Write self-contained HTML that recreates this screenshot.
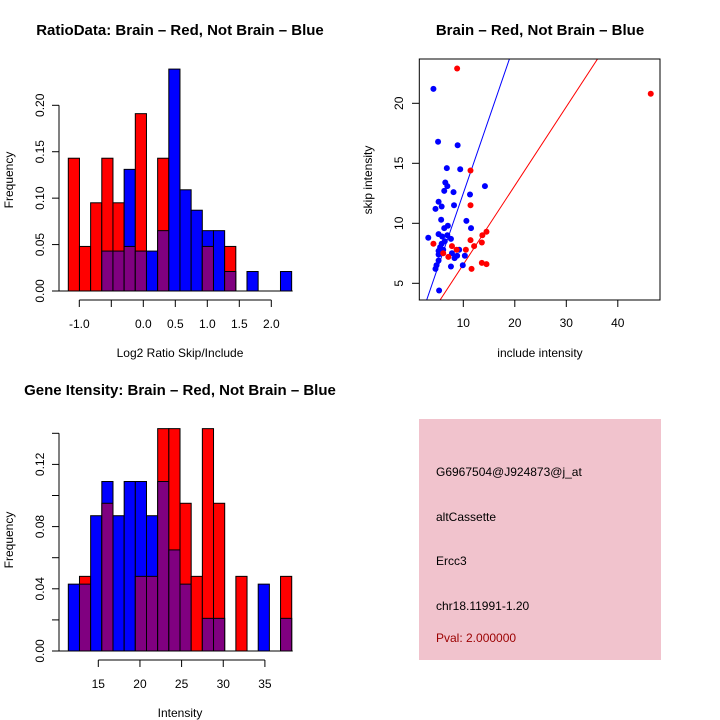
<!DOCTYPE html>
<html><head><meta charset="utf-8"><style>
body{margin:0;background:#fff;}
svg{display:block;font-family:"Liberation Sans",sans-serif;}
</style></head><body>
<svg id="c" width="720" height="720" viewBox="0 0 720 720">
<rect x="0" y="0" width="720" height="720" fill="#fff"/>
<text x="180" y="35" text-anchor="middle" font-size="15" font-weight="bold">RatioData: Brain – Red, Not Brain – Blue</text>
<text x="540" y="35" text-anchor="middle" font-size="15" font-weight="bold">Brain – Red, Not Brain – Blue</text>
<text x="180" y="395" text-anchor="middle" font-size="15" font-weight="bold">Gene Itensity: Brain – Red, Not Brain – Blue</text>
<text x="180" y="357" text-anchor="middle" font-size="12">Log2 Ratio Skip/Include</text>
<text transform="translate(13,180) rotate(-90)" text-anchor="middle" font-size="12">Frequency</text>
<text x="540" y="357" text-anchor="middle" font-size="12">include intensity</text>
<text transform="translate(372,180) rotate(-90)" text-anchor="middle" font-size="12">skip intensity</text>
<text x="180" y="717" text-anchor="middle" font-size="12">Intensity</text>
<text transform="translate(13,540) rotate(-90)" text-anchor="middle" font-size="12">Frequency</text>
<g>
<rect x="419" y="419" width="242" height="241" fill="#f1c3cd"/>
<text x="436" y="476" font-size="12">G6967504@J924873@j_at</text>
<text x="436" y="521" font-size="12">altCassette</text>
<text x="436" y="565" font-size="12">Ercc3</text>
<text x="436" y="610" font-size="12">chr18.11991-1.20</text>
<text x="436" y="642" font-size="12" fill="#9b0000">Pval: 2.000000</text>
</g>
</svg>
<script>
// Ratio histogram data
const ratioRed = [0.143,0.048,0.095,0.143,0.095,0.048,0.191,0,0.143,0,0,0,0.048,0,0.048,0,0,0,0,0];
const ratioBlue = [0,0,0,0.043,0.043,0.131,0.043,0.043,0.065,0.239,0.109,0.087,0.065,0.065,0.021,0,0.021,0,0,0.021];
const ratioBinStart = -1.172, ratioBinWidth = 0.1745;
const ratioXTicks = [-1.0,-0.5,0.0,0.5,1.0,1.5,2.0];
const ratioXLabels = ["-1.0","","0.0","0.5","1.0","1.5","2.0"];
const ratioYTicks = [0,0.05,0.10,0.15,0.20];
const ratioYLabels = ["0.00","0.05","0.10","0.15","0.20"];
// Intensity histogram data
const intRed = [0,0.048,0,0.095,0,0,0.048,0.048,0.143,0.143,0.095,0.048,0.143,0.095,0,0.048,0,0,0,0.048];
const intBlue = [0.043,0.043,0.087,0.109,0.087,0.109,0.109,0.087,0.109,0.065,0.043,0,0.021,0.021,0,0,0,0.043,0,0.021];
const intBinStart = 11.4, intBinWidth = 1.341;
const intXTicks = [15,20,25,30,35];
const intYTicks = [0,0.02,0.04,0.06,0.08,0.10,0.12,0.14];
const intYLabels = ["0.00","","0.04","","0.08","","0.12",""];
// Scatter data
const blueX = [4.2,5.1,8.9,6.8,9.4,6.5,6.9,14.2,6.3,8.1,11.3,5.2,5.8,8.2,4.6,5.7,10.6,7.0,6.3,11.5,5.2,6.9,3.2,5.9,7.6,6.4,5.8,5.5,5.2,6.1,9.2,7.8,5.2,8.8,8.3,10.3,5.2,4.8,4.6,7.6,9.9,5.3];
const blueY = [21.2,16.8,16.5,14.6,14.5,13.4,13.1,13.1,12.7,12.6,12.4,11.8,11.4,11.5,11.2,10.3,10.2,9.8,9.6,9.6,9.1,9.0,8.8,8.9,8.7,8.5,8.3,8.0,7.7,7.8,7.8,7.5,7.4,7.3,7.1,7.3,6.9,6.5,6.2,6.4,6.5,4.4];
const redX = [8.8,46.4,11.4,11.4,4.2,11.4,12.1,13.7,14.5,13.6,7.8,7.1,10.5,6.1,11.6,13.6,14.5,8.7];
const redY = [22.9,20.8,14.4,11.5,8.3,8.6,8.1,9.0,9.3,8.4,8.1,7.2,7.8,7.5,6.2,6.7,6.6,7.8];
const blueSlope = 1.25, redSlope = 0.657;
const scXTicks = [10,20,30,40];
const scYTicks = [5,10,15,20];

const NS="http://www.w3.org/2000/svg";
const svg=document.getElementById('c');
function mk(tag,attrs,parent){const e=document.createElementNS(NS,tag);for(const k in attrs)e.setAttribute(k,attrs[k]);(parent||svg).appendChild(e);return e;}

function hist(red,blue,start,w,xs,ys,yTicks,yLabels,xTicks,xLabels,xAxisY,prefix){
  const g=mk('g',{});
  
  
  for(let i=0;i<red.length;i++){
    const x0=xs(start+i*w), x1=xs(start+(i+1)*w);
    const r=red[i], b=blue[i], mx=Math.max(r,b), mn=Math.min(r,b);
    if(mx>0){
      const bar=mk('rect',{x:x0,y:ys(mx),width:x1-x0,height:ys(0)-ys(mx),fill:r>=b?'#ff0000':'#0000ff',stroke:'#000','stroke-width':1},g);
      
      
    }
    if(mn>0){
      const p=mk('rect',{x:x0,y:ys(mn),width:x1-x0,height:ys(0)-ys(mn),fill:'#800080',stroke:'#000','stroke-width':1},g);
      
      
    }
  }
  mk('line',{x1:59,x2:xs(start+red.length*w)+1,y1:ys(0),y2:ys(0),stroke:'#000'},g);
  const ya=mk('g',{},g);
  
  
  mk('line',{x1:59,x2:59,y1:ys(yTicks[0]),y2:ys(yTicks[yTicks.length-1]),stroke:'#000'},ya);
  yTicks.forEach((t,i)=>{
    mk('line',{x1:52,x2:59,y1:ys(t),y2:ys(t),stroke:'#000'},ya);
    if(yLabels[i]){const tx=mk('text',{transform:`translate(44,${ys(t)}) rotate(-90)`,'text-anchor':'middle','font-size':12},ya);tx.textContent=yLabels[i];}
  });
  const xa=mk('g',{},g);
  
  
  mk('line',{x1:xs(xTicks[0]),x2:xs(xTicks[xTicks.length-1]),y1:xAxisY,y2:xAxisY,stroke:'#000'},xa);
  xTicks.forEach((t,i)=>{
    mk('line',{x1:xs(t),x2:xs(t),y1:xAxisY,y2:xAxisY+7,stroke:'#000'},xa);
    if(xLabels[i]){const tx=mk('text',{x:xs(t),y:xAxisY+28,'text-anchor':'middle','font-size':12},xa);tx.textContent=xLabels[i];}
  });
}
hist(ratioRed,ratioBlue,ratioBinStart,ratioBinWidth,v=>143.3+64*v,v=>291-928.5*v,ratioYTicks,ratioYLabels,ratioXTicks,ratioXLabels,300,'ratio');
hist(intRed,intBlue,intBinStart,intBinWidth,v=>98.3+8.33*(v-15),v=>651-1555*v,intYTicks,intYLabels,intXTicks,intXTicks.map(String),660,'intensity');

const sx=v=>411.8+5.15*v, sy=v=>343.3-12*v;
const sg=mk('g',{});


const cp=mk('clipPath',{id:'clip'},sg);
mk('rect',{x:419.3,y:59,width:240.7,height:241},cp);
const lg=mk('g',{'clip-path':'url(#clip)'},sg);
const bl=mk('line',{x1:sx(0),y1:sy(0),x2:sx(40),y2:sy(40*blueSlope),stroke:'#0000ff'},lg);


const rl=mk('line',{x1:sx(0),y1:sy(0),x2:sx(60),y2:sy(60*redSlope),stroke:'#ff0000'},lg);


blueX.forEach((x,i)=>{
  const c=mk('circle',{cx:sx(x),cy:sy(blueY[i]),r:3,fill:'#0000ff'},lg);
  
  
});
redX.forEach((x,i)=>{
  const c=mk('circle',{cx:sx(x),cy:sy(redY[i]),r:3,fill:'#ff0000'},lg);
  
  
});
mk('rect',{x:419.3,y:59,width:240.7,height:241,fill:'none',stroke:'#000'},sg);
scXTicks.forEach(t=>{
  mk('line',{x1:sx(t),x2:sx(t),y1:300,y2:307,stroke:'#000'},sg);
  const tx=mk('text',{x:sx(t),y:327,'text-anchor':'middle','font-size':12},sg);
  
  
  tx.textContent=t;
});
scYTicks.forEach(t=>{
  mk('line',{x1:412,x2:419.3,y1:sy(t),y2:sy(t),stroke:'#000'},sg);
  const tx=mk('text',{transform:`translate(403,${sy(t)}) rotate(-90)`,'text-anchor':'middle','font-size':12},sg);
  
  
  tx.textContent=t;
});
</script>
</body></html>
